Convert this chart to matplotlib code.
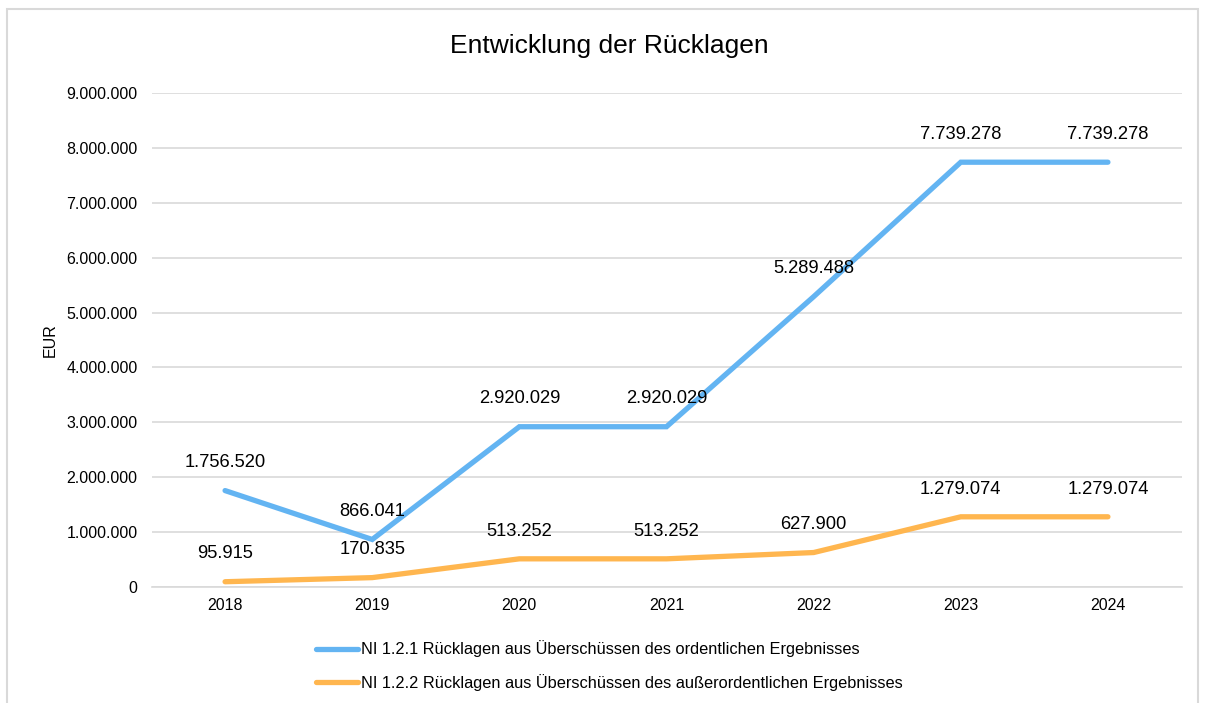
import matplotlib.pyplot as plt
from matplotlib.patches import Rectangle
from matplotlib.lines import Line2D

years = ['2018', '2019', '2020', '2021', '2022', '2023', '2024']
ordentlich = [1756520, 866041, 2920029, 2920029, 5289488, 7739278, 7739278]
ausserordentlich = [95915, 170835, 513252, 513252, 627900, 1279074, 1279074]
label_1 = 'NI 1.2.1 Rücklagen aus Überschüssen des ordentlichen Ergebnisses'
label_2 = 'NI 1.2.2 Rücklagen aus Überschüssen des außerordentlichen Ergebnisses'

plt.rcParams['font.family'] = ['Liberation Sans', 'DejaVu Sans']

BLUE = '#63b4f2'
ORANGE = '#ffb64f'


def de_fmt(v):
    return f'{int(v):,}'.replace(',', '.')


fig = plt.figure(figsize=(12.06, 7.03), dpi=100)
ax = fig.add_axes([151.5 / 1206, 1 - 587 / 703, 1030 / 1206, 494 / 703])

x = list(range(len(years)))
ax.plot(x, ordentlich, color=BLUE, linewidth=3.8, solid_capstyle='round', solid_joinstyle='miter')
ax.plot(x, ausserordentlich, color=ORANGE, linewidth=3.8, solid_capstyle='round', solid_joinstyle='miter')

for xi, v in zip(x, ordentlich):
    ax.annotate(de_fmt(v), (xi, v), xytext=(0, 20), textcoords='offset points',
                ha='center', va='center', fontsize=13.2)
for xi, v in zip(x, ausserordentlich):
    ax.annotate(de_fmt(v), (xi, v), xytext=(0, 20), textcoords='offset points',
                ha='center', va='center', fontsize=13.2)

ax.set_xlim(-0.5, len(years) - 0.5)
ax.set_ylim(0, 9000000)
ax.set_yticks(range(0, 9000001, 1000000))
ax.set_yticklabels([de_fmt(t) for t in range(0, 9000001, 1000000)], fontsize=11.5)
ax.set_xticks(x)
ax.set_xticklabels(years, fontsize=11.5)
ax.tick_params(length=0, pad=10)
ax.tick_params(axis='x', pad=8)
ax.grid(axis='y', color='#d9d9d9', linewidth=1.2)
ax.set_axisbelow(True)
for s in ax.spines.values():
    s.set_visible(False)
ax.spines['bottom'].set_visible(True)
ax.spines['bottom'].set_color('#d9d9d9')
ax.spines['bottom'].set_linewidth(1.2)

ax.set_ylabel('EUR', fontsize=11.5)
ax.yaxis.set_label_coords(-94 / 1030, 0.5)

fig.text(609 / 1206, 1 - 46 / 703, 'Entwicklung der Rücklagen', ha='center', va='center', fontsize=19)

handles = [Line2D([], [], color=BLUE, linewidth=3.8, solid_capstyle='round'),
           Line2D([], [], color=ORANGE, linewidth=3.8, solid_capstyle='round')]
fig.legend(handles, [label_1, label_2], loc='center', bbox_to_anchor=(609 / 1206, 1 - 665.5 / 703),
           ncol=1, frameon=False, fontsize=11.8, handlelength=2.6, handletextpad=0.15,
           labelspacing=1.0, borderpad=0)

fig.patches.append(Rectangle((7 / 1206, -0.1), 1191 / 1206, 1 - 9 / 703 + 0.1,
                             transform=fig.transFigure, fill=False,
                             edgecolor='#d9d9d9', linewidth=1.5))

fig.savefig('out.png', dpi=100)
